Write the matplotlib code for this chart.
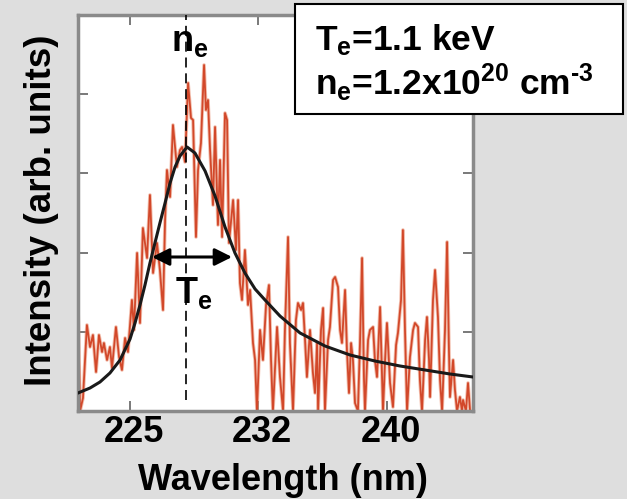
import matplotlib
matplotlib.use("Agg")
import matplotlib.pyplot as plt
import matplotlib.transforms as mtransforms
from matplotlib.patches import Rectangle

# --- Data ---
# measured spectrum (wavelength in nm, intensity in arb. units)
wl_meas = [222.00, 222.12, 222.29, 222.52, 222.70, 222.87, 223.05, 223.22, 223.40, 223.51,
           223.69, 223.86, 223.98, 224.21, 224.39, 224.56, 224.74, 224.91, 225.14, 225.26,
           225.44, 225.61, 225.78, 226.02, 226.19, 226.37, 226.60, 226.77, 226.95, 227.07,
           227.18, 227.36, 227.53, 227.76, 227.94, 228.06, 228.23, 228.41, 228.58, 228.70,
           228.87, 228.99, 229.16, 229.34, 229.45, 229.57, 229.69, 229.86, 229.98, 230.15,
           230.27, 230.39, 230.56, 230.68, 230.79, 231.03, 231.20, 231.32, 231.43, 231.55,
           231.72, 231.90, 232.02, 232.19, 232.31, 232.42, 232.60, 232.77, 232.95, 233.12,
           233.24, 233.35, 233.59, 233.76, 233.94, 234.05, 234.23, 234.34, 234.52, 234.69,
           234.81, 234.99, 235.10, 235.22, 235.33, 235.51, 235.68, 235.80, 235.92, 235.98,
           236.15, 236.27, 236.38, 236.56, 236.67, 236.85, 236.97, 237.14, 237.26, 237.37,
           237.55, 237.66, 237.78, 237.90, 238.01, 238.13, 238.30, 238.42, 238.54, 238.65,
           238.71, 238.89, 239.00, 239.18, 239.29, 239.41, 239.59, 239.76, 239.88, 239.99,
           240.17, 240.34, 240.52, 240.63, 240.81, 240.92, 241.04, 241.16, 241.33, 241.51,
           241.62, 241.80, 241.91, 242.03, 242.21, 242.32, 242.44, 242.50, 242.67, 242.79,
           242.90, 242.96, 243.08, 243.20, 243.37, 243.49, 243.60, 243.66, 243.84, 243.95,
           244.07, 244.24, 244.36, 244.42, 244.59, 244.71, 244.83]
int_meas = [106, 0, 13, 86, 64, 76, 39, 76, 59, 68,
            51, 64, 43, 84, 54, 41, 73, 59, 111, 81,
            158, 88, 183, 153, 216, 138, 168, 141, 101, 191,
            241, 214, 286, 244, 261, 264, 249, 328, 293, 291,
            174, 241, 268, 346, 301, 311, 261, 206, 284, 186,
            251, 174, 298, 291, 168, 211, 161, 211, 128, 111,
            161, 106, 121, 68, 51, 0, 81, 51, 106, 126,
            51, 0, 84, 34, 0, 81, 174, 68, 0, 91,
            108, 101, 108, 71, 34, 81, 38, 18, 68, 0,
            81, 103, 0, 71, 84, 131, 134, 124, 81, 68,
            121, 61, 18, 68, 51, 8, 0, 68, 153, 34,
            0, 71, 81, 84, 51, 34, 104, 0, 51, 88,
            28, 4, 66, 78, 111, 181, 81, 0, 54, 81,
            88, 84, 31, 0, 71, 94, 51, 14, 111, 141,
            111, 94, 31, 0, 81, 169, 61, 14, 51, 21,
            0, 14, 0, 11, 0, 28, 0]

# fitted profile
wl_fit = [222.00, 222.70, 223.28, 223.86, 224.45, 225.03, 225.32, 225.61, 225.90, 226.19,
          226.48, 226.77, 227.07, 227.36, 227.65, 227.94, 228.35, 228.81, 229.40, 229.98,
          230.56, 231.14, 231.72, 232.31, 232.89, 233.76, 234.93, 236.38, 237.84, 239.29,
          240.75, 242.21, 243.66, 245.00]
int_fit = [18, 23, 29, 38, 51, 72, 88, 106, 126, 148,
           168, 188, 208, 228, 244, 255, 264, 258, 240, 215,
           184, 158, 138, 122, 111, 95, 78, 65, 56, 50,
           45, 41, 37, 34]

x_ticks = [225, 232.5, 240]
x_tick_labels = ["225", "232", "240"]
line_center = 228.29          # n_e marker
fwhm_left, fwhm_right, fwhm_level = 226.31, 230.97, 154

plt.rcParams["font.family"] = ["Liberation Sans", "DejaVu Sans"]
plt.rcParams["font.weight"] = "bold"
plt.rcParams["mathtext.fontset"] = "custom"
plt.rcParams["mathtext.rm"] = "Liberation Sans:bold"
plt.rcParams["mathtext.bf"] = "Liberation Sans:bold"
plt.rcParams["mathtext.it"] = "Liberation Sans:bold"
plt.rcParams["mathtext.default"] = "bf"

fig = plt.figure(figsize=(6.27, 4.99), dpi=100)
fig.patch.set_facecolor("#dedede")
ax = fig.add_axes([78 / 627, 88 / 499, 395 / 627, 396 / 499])
ax.set_facecolor("white")

# measured spectrum: soft halo + core to mimic the blurred trace
ax.plot(wl_meas, int_meas, color="#e8896a", lw=2.6, alpha=0.55, zorder=2)
ax.plot(wl_meas, int_meas, color="#d2482a", lw=1.3, zorder=2)
ax.plot(wl_fit, int_fit, color="#1a1a1a", lw=2.2, zorder=3)
ax.plot([line_center, line_center], [11, 396], color="black", lw=1.2,
        linestyle=(0, (6, 3.5)), zorder=4)
ax.annotate("", xy=(fwhm_left, fwhm_level), xytext=(fwhm_right, fwhm_level),
            arrowprops=dict(arrowstyle="<|-|>", lw=2.2, color="black",
                            mutation_scale=26, shrinkA=0, shrinkB=0), zorder=5)

ax.text(line_center - 0.85, 360, r"$n_e$", fontsize=26, ha="left", va="baseline")
ax.text(line_center - 0.65, 108, r"$T_e$", fontsize=26, ha="left", va="baseline")

ax.set_xlim(222, 245)
ax.set_ylim(0, 396)
ax.set_xticks(x_ticks)
ax.set_xticklabels(x_tick_labels, fontsize=26, fontweight="bold")
ax.set_yticks([0, 79.2, 158.4, 237.6, 316.8, 396])
ax.tick_params(direction="in", length=7, width=1.1, color="#555555",
               left=True, right=True, top=True, bottom=True,
               labelleft=False, pad=3)
shift = mtransforms.ScaledTranslation(4 / 100, 0, fig.dpi_scale_trans)
for lbl in ax.get_xticklabels():
    lbl.set_transform(lbl.get_transform() + shift)
for sp in ax.spines.values():
    sp.set_color("#8a8a8a")
    sp.set_linewidth(2.5)

fig.text(283 / 627, 1 / 499, "Wavelength (nm)", fontsize=26, fontweight="bold",
         ha="center", va="bottom")
fig.text(42 / 627, 289 / 499, "Intensity (arb. units)", fontsize=26.5,
         fontweight="bold", rotation=90, ha="center", va="center")

# parameter box
fig.patches.append(Rectangle((295 / 627, 385 / 499), 328 / 627, 110 / 499,
                             transform=fig.transFigure, facecolor="white",
                             edgecolor="black", lw=1.5, zorder=5))
fig.text(315 / 627, 449 / 499, r"$T_e$=1.1 keV", fontsize=25.5, ha="left",
         va="baseline", zorder=6)
fig.text(315 / 627, 404 / 499, r"$n_e$=1.2x$10^{20}$ $cm^{\text{-}3}$", fontsize=25.5,
         ha="left", va="baseline", zorder=6)

fig.savefig("out.png", dpi=100, facecolor=fig.get_facecolor())
